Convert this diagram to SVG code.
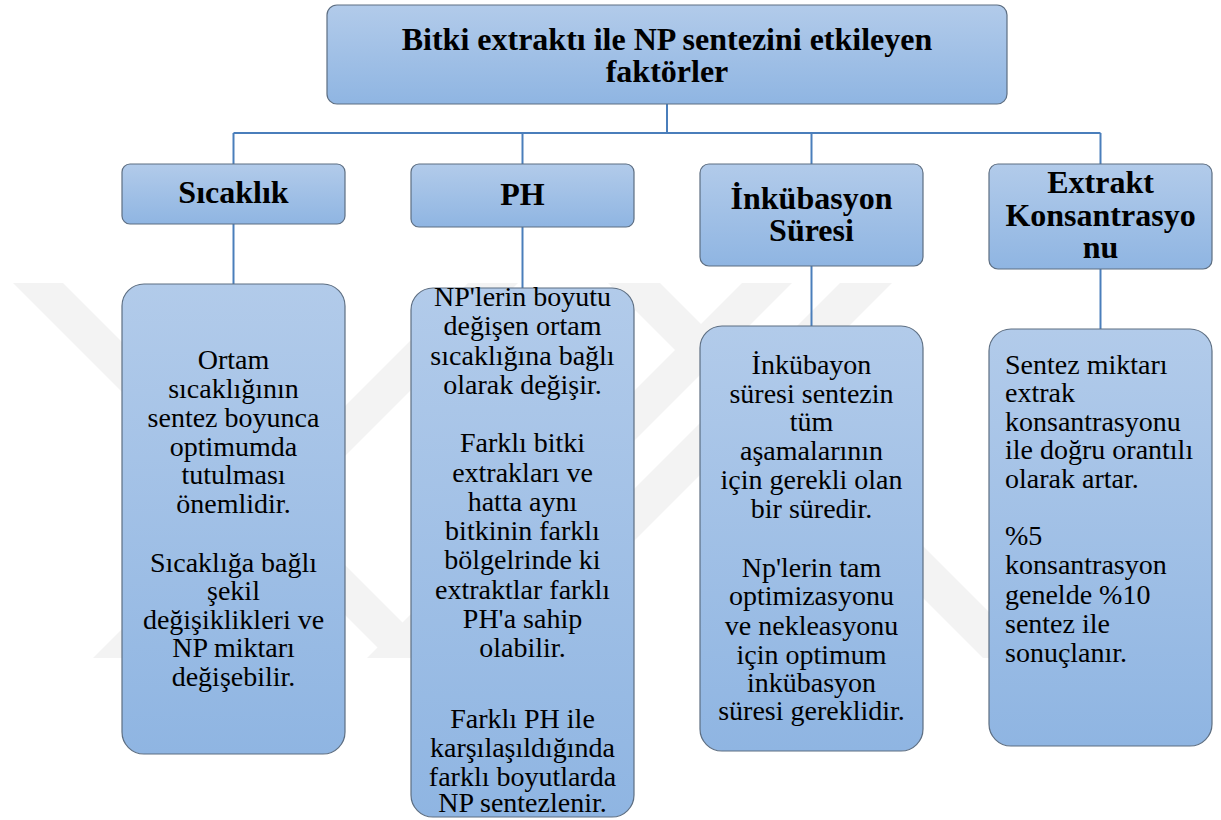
<svg xmlns="http://www.w3.org/2000/svg" width="1221" height="820" viewBox="0 0 1221 820">
  <defs>
    <linearGradient id="boxGrad" x1="0" y1="0" x2="0" y2="1">
      <stop offset="0" stop-color="#b2cbea"/>
      <stop offset="1" stop-color="#8fb5e2"/>
    </linearGradient>
    <style>
      .box { fill: url(#boxGrad); stroke: #5d6e82; stroke-width: 1.2; }
      .head { font-family: "Liberation Serif", "Times New Roman", serif; font-weight: bold; font-size: 32px; fill: #000; text-anchor: middle; }
      .body { font-family: "Liberation Serif", "Times New Roman", serif; font-size: 28px; fill: #000; text-anchor: middle; }
      .left { text-anchor: start; }
      .conn { stroke: #4a7ebb; stroke-width: 2; fill: none; }
      .wm { fill: #f3f3f3; }
    </style>
  </defs>

  <rect width="1221" height="820" fill="#ffffff"/>

  <g id="watermark">
    <polygon class="wm" points="13,283 63,283 438,658 388,658"/>
    <polygon class="wm" points="93,658 143,658 518,283 468,283"/>
    <polygon class="wm" points="367,658 417,658 792,283 742,283"/>
    <polygon class="wm" points="608,283 660,283 1035,658 983,658"/>
    <polygon class="wm" points="840,283 892,283 517,658 465,658"/>
  </g>

  <g id="connectors">
    <path class="conn" d="M667,104 V133"/>
    <path class="conn" d="M233.5,133 H1100.5"/>
    <path class="conn" d="M233.5,133 V164"/>
    <path class="conn" d="M522.5,133 V164"/>
    <path class="conn" d="M811.5,133 V164"/>
    <path class="conn" d="M1100.5,133 V164"/>
    <path class="conn" d="M233.5,224 V284"/>
    <path class="conn" d="M522.5,227 V288"/>
    <path class="conn" d="M811.5,266 V326"/>
    <path class="conn" d="M1100.5,269 V329"/>
  </g>

  <g id="root">
    <rect class="box" x="327" y="5" width="680" height="99" rx="10"/>
    <text class="head" x="667" y="50">Bitki extraktı ile NP sentezini etkileyen</text>
    <text class="head" x="667" y="82">faktörler</text>
  </g>

  <g id="sicaklik">
    <rect class="box" x="122" y="164" width="223" height="60" rx="8"/>
    <text class="head" x="233.5" y="203">Sıcaklık</text>
  </g>

  <g id="ph">
    <rect class="box" x="411" y="164" width="223" height="63" rx="8"/>
    <text class="head" x="522.5" y="205">PH</text>
  </g>

  <g id="inkubasyon">
    <rect class="box" x="700" y="164" width="223" height="102" rx="9"/>
    <text class="head" x="811.5" y="209">İnkübasyon</text>
    <text class="head" x="811.5" y="241">Süresi</text>
  </g>

  <g id="extrakt">
    <rect class="box" x="989" y="164" width="223" height="105" rx="9"/>
    <text class="head" x="1100.5" y="193">Extrakt</text>
    <text class="head" x="1100.5" y="226">Konsantrasyo</text>
    <text class="head" x="1100.5" y="258">nu</text>
  </g>

  <g id="sicaklik-detail">
    <rect class="box" x="122" y="284" width="223" height="470" rx="22"/>
    <text class="body" x="233.5" y="369">Ortam</text>
    <text class="body" x="233.5" y="398">sıcaklığının</text>
    <text class="body" x="233.5" y="427">sentez boyunca</text>
    <text class="body" x="233.5" y="455.5">optimumda</text>
    <text class="body" x="233.5" y="484">tutulması</text>
    <text class="body" x="233.5" y="512.5">önemlidir.</text>
    <text class="body" x="233.5" y="571.5">Sıcaklığa bağlı</text>
    <text class="body" x="233.5" y="600">şekil</text>
    <text class="body" x="233.5" y="628.5">değişiklikleri ve</text>
    <text class="body" x="233.5" y="657">NP miktarı</text>
    <text class="body" x="233.5" y="686">değişebilir.</text>
  </g>

  <g id="ph-detail">
    <rect class="box" x="411" y="288" width="223" height="529" rx="22"/>
    <text class="body" x="522.5" y="306">NP'lerin boyutu</text>
    <text class="body" x="522.5" y="335">değişen ortam</text>
    <text class="body" x="522.5" y="364.5">sıcaklığına bağlı</text>
    <text class="body" x="522.5" y="393.5">olarak değişir.</text>
    <text class="body" x="522.5" y="452">Farklı bitki</text>
    <text class="body" x="522.5" y="481.5">extrakları ve</text>
    <text class="body" x="522.5" y="510.5">hatta aynı</text>
    <text class="body" x="522.5" y="540">bitkinin farklı</text>
    <text class="body" x="522.5" y="569">bölgelrinde ki</text>
    <text class="body" x="522.5" y="598.5">extraktlar farklı</text>
    <text class="body" x="522.5" y="628">PH'a sahip</text>
    <text class="body" x="522.5" y="656.5">olabilir.</text>
    <text class="body" x="522.5" y="727.5">Farklı PH ile</text>
    <text class="body" x="522.5" y="757">karşılaşıldığında</text>
    <text class="body" x="522.5" y="786">farklı boyutlarda</text>
    <text class="body" x="522.5" y="812">NP sentezlenir.</text>
  </g>

  <g id="inkubasyon-detail">
    <rect class="box" x="700" y="326" width="223" height="425" rx="22"/>
    <text class="body" x="811.5" y="373.5">İnkübayon</text>
    <text class="body" x="811.5" y="402.5">süresi sentezin</text>
    <text class="body" x="811.5" y="431">tüm</text>
    <text class="body" x="811.5" y="460">aşamalarının</text>
    <text class="body" x="811.5" y="488.5">için gerekli olan</text>
    <text class="body" x="811.5" y="517.5">bir süredir.</text>
    <text class="body" x="811.5" y="577">Np'lerin tam</text>
    <text class="body" x="811.5" y="605">optimizasyonu</text>
    <text class="body" x="811.5" y="634.5">ve nekleasyonu</text>
    <text class="body" x="811.5" y="663.5">için optimum</text>
    <text class="body" x="811.5" y="692">inkübasyon</text>
    <text class="body" x="811.5" y="720">süresi gereklidir.</text>
  </g>

  <g id="extrakt-detail">
    <rect class="box" x="989" y="329" width="223" height="417" rx="22"/>
    <text class="body left" x="1005" y="373.5">Sentez miktarı</text>
    <text class="body left" x="1005" y="402">extrak</text>
    <text class="body left" x="1005" y="430.5">konsantrasyonu</text>
    <text class="body left" x="1005" y="458.5">ile doğru orantılı</text>
    <text class="body left" x="1005" y="488">olarak artar.</text>
    <text class="body left" x="1005" y="545">%5</text>
    <text class="body left" x="1005" y="574">konsantrasyon</text>
    <text class="body left" x="1005" y="603.5">genelde %10</text>
    <text class="body left" x="1005" y="632.5">sentez ile</text>
    <text class="body left" x="1005" y="662">sonuçlanır.</text>
  </g>
</svg>
